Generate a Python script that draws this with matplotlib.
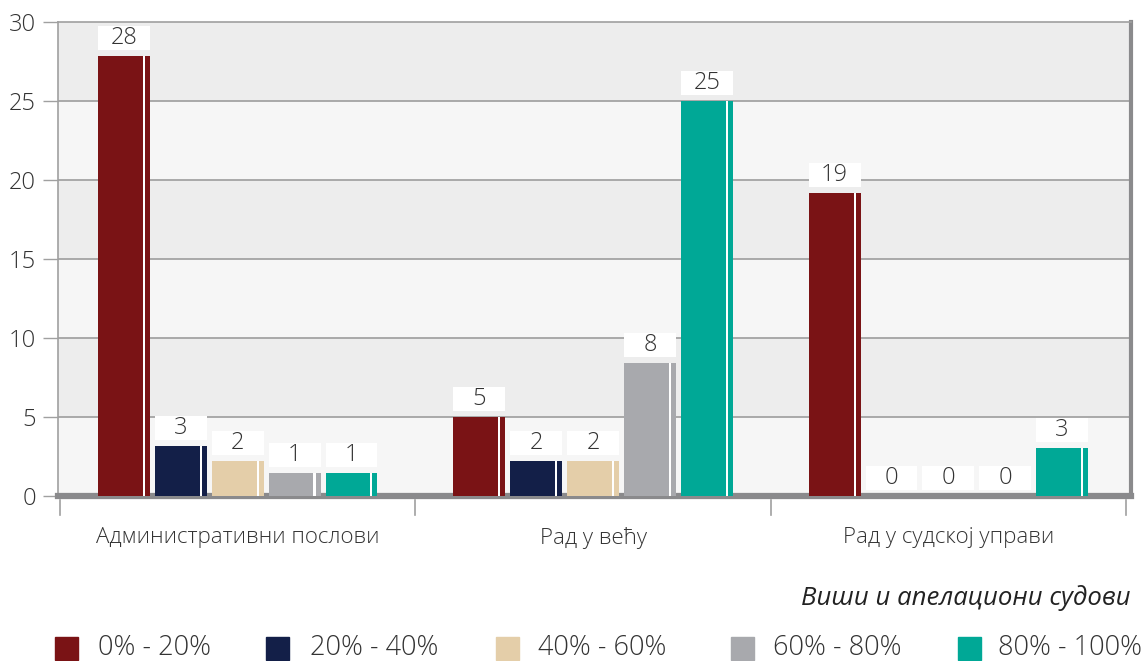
import matplotlib
matplotlib.use("Agg")
import matplotlib.pyplot as plt
from matplotlib.patches import Rectangle
import numpy as np

plt.rcParams['font.family'] = ['Open Sans', 'DejaVu Sans']

# =====================================================
# Data
# =====================================================
categories = ['Административни послови', 'Рад у већу', 'Рад у судској управи']
series_names = ['0% - 20%', '20% - 40%', '40% - 60%', '60% - 80%', '80% - 100%']
colors = ['#7a1315', '#131f48', '#e4cea9', '#a8a9ad', '#00a896']

# bar heights as drawn, and the labels printed above them
values = [
    [27.85, 5.0, 19.15],   # 0% - 20%
    [3.16, 2.2, 0.0],      # 20% - 40%
    [2.2, 2.2, 0.0],       # 40% - 60%
    [1.46, 8.4, 0.0],      # 60% - 80%
    [1.46, 25.0, 3.04],    # 80% - 100%
]
labels = [
    ['28', '5', '19'],
    ['3', '2', '0'],
    ['2', '2', '0'],
    ['1', '8', '0'],
    ['1', '25', '3'],
]
yticks = [0, 5, 10, 15, 20, 25, 30]
footnote = 'Виши и апелациони судови'

# =====================================================
# Figure
# =====================================================
W, H = 1146, 661
fig = plt.figure(figsize=(W / 100, H / 100), dpi=100)
ax = fig.add_axes([58 / W, 1 - 496 / H, (1131 - 58) / W, (496 - 22) / H])

ax.set_xlim(-0.506, 2.514)
ax.set_ylim(0, 30)

# alternating background bands
for i in range(6):
    c = '#f6f6f6' if i % 2 == 0 else '#ededed'
    ax.axhspan(i * 5, i * 5 + 5, color=c, zorder=0, lw=0)
for y in yticks[1:-1]:
    ax.axhline(y, color='#a3a3a3', lw=1.3, zorder=1)

x = np.arange(len(categories))
step = 0.16
width = 0.146
px = 30 / 474  # data units per pixel on y

for i, (vals, labs, col) in enumerate(zip(values, labels, colors)):
    xs = x + (i - 2) * step
    ax.bar(xs, vals, width=width, color=col, zorder=3, lw=0)
    # white highlight stripe near right edge
    ax.bar(xs + width / 2 - 0.017, vals, width=0.006, color='white', zorder=4, lw=0)
    # white label boxes
    ax.bar(xs, [24 * px] * 3, bottom=[v + 6 * px for v in vals], width=width,
           color='white', zorder=4, lw=0)
    for xx, v, t in zip(xs, vals, labs):
        ax.text(xx, v + 18 * px, t, ha='center', va='center', fontsize=17,
                fontweight='light', color='#333333', zorder=5)

# spines
for s in ['top', 'left']:
    ax.spines[s].set_color('#a0a0a0')
    ax.spines[s].set_linewidth(1.2)
ax.spines['right'].set_color('#8a8a8c')
ax.spines['right'].set_linewidth(3)
ax.spines['bottom'].set_color('#8a8a8c')
ax.spines['bottom'].set_linewidth(4.5)

ax.set_yticks(yticks)
ax.set_yticklabels([str(t) for t in yticks], fontsize=17, fontweight='light',
                   color='#333333')
ax.tick_params(axis='y', length=11, width=1, color='#a0a0a0', pad=5)

# category labels and separators
ax.set_xticks(x)
ax.set_xticklabels(categories, fontsize=16, fontweight='light', color='#333333')
ax.tick_params(axis='x', length=0, pad=22)
for sx in [-0.5, 0.5, 1.5, 2.5]:
    ax.plot([sx, sx], [-0.25, -1.2], color='#a0a0a0', lw=1.2, clip_on=False, zorder=6)

fig.text(1131 / W, 1 - 598 / H, footnote, ha='right', va='center',
         fontsize=18.5, style='italic', color='#222222')

# legend
leg_sq = [55, 266, 496, 731, 958]
leg_tx = [98, 310, 538, 773, 998]
for sq, tx, name, col in zip(leg_sq, leg_tx, series_names, colors):
    fig.patches.append(Rectangle((sq / W, 1 - 660 / H), 23 / W, 23 / H,
                                 transform=fig.transFigure, color=col))
    fig.text(tx / W, 1 - 648 / H, name, ha='left', va='center',
             fontsize=19.5, fontweight='light', color='#333333')

fig.savefig('out.png', dpi=100)
